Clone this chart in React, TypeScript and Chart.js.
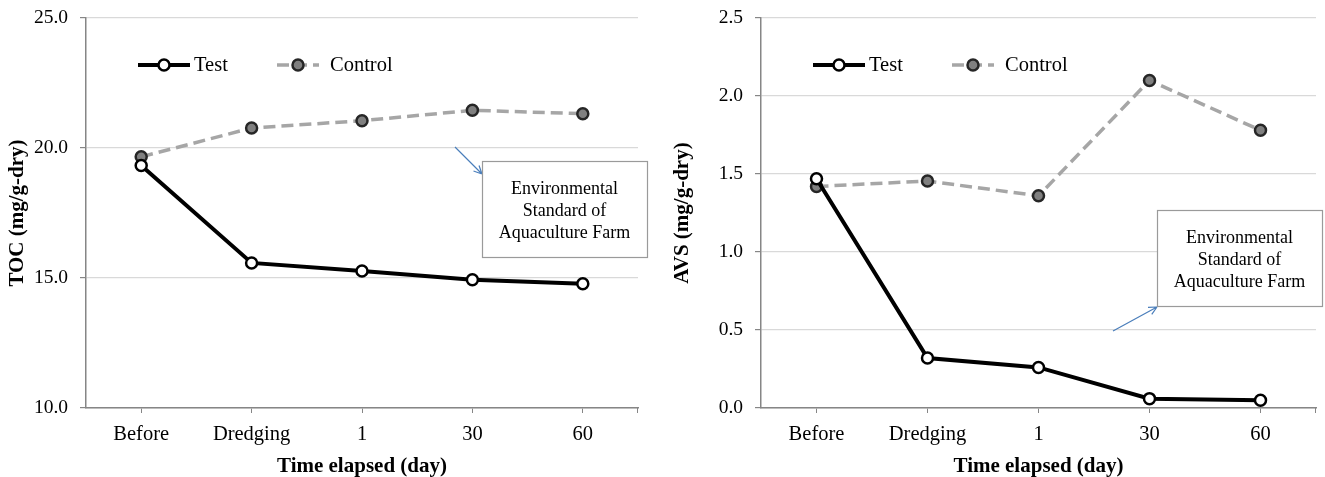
import React, { useEffect, useRef } from "react";
import { Chart, registerables } from "chart.js";

Chart.register(...registerables);

// ---------- data ----------
const categories = ["Before", "Dredging", "1", "30", "60"];
const seriesNames = ["Test", "Control"];
const tocTest = [19.33, 15.58, 15.27, 14.93, 14.78];
const tocControl = [19.66, 20.77, 21.05, 21.45, 21.32];
const avsTest = [1.47, 0.32, 0.26, 0.06, 0.05];
const avsControl = [1.42, 1.455, 1.36, 2.1, 1.78];
const tocTicks = { min: 10, max: 25, step: 5 };
const avsTicks = { min: 0, max: 2.5, step: 0.5 };
const xTitle = "Time elapsed (day)";
const tocTitle = "TOC (mg/g-dry)";
const avsTitle = "AVS (mg/g-dry)";
const annotationLines = ["Environmental", "Standard of", "Aquaculture Farm"];

// ---------- styles ----------
const FONT = "'Liberation Serif', 'Times New Roman', serif";
const AXIS_COLOR = "#868686";
const GRID_COLOR = "#d9d9d9";
const TEXT_COLOR = "#000000";

const overlayPlugin = {
  id: "overlay",
  afterDraw(chart: any, _args: any, opts: any) {
    const { ctx, chartArea: a } = chart;
    ctx.save();
    // right-end tick mark on the category axis
    ctx.strokeStyle = AXIS_COLOR;
    ctx.lineWidth = 1;
    ctx.beginPath();
    ctx.moveTo(Math.round(a.right) - 0.5, a.bottom);
    ctx.lineTo(Math.round(a.right) - 0.5, a.bottom + 5);
    ctx.stroke();

    // legend inside plot
    const ly = a.top + opts.legendDy;
    chart.data.datasets.forEach((ds: any, i: number) => {
      const it = opts.legend[i];
      ctx.save();
      ctx.strokeStyle = ds.borderColor;
      ctx.lineWidth = ds.borderWidth;
      ctx.setLineDash(ds.borderDash || []);
      ctx.beginPath();
      ctx.moveTo(a.left + it.from, ly);
      ctx.lineTo(a.left + it.to, ly);
      ctx.stroke();
      ctx.setLineDash([]);
      ctx.beginPath();
      ctx.arc(a.left + it.marker, ly, ds.pointRadius, 0, Math.PI * 2);
      ctx.fillStyle = ds.pointBackgroundColor;
      ctx.fill();
      ctx.lineWidth = ds.pointBorderWidth;
      ctx.strokeStyle = ds.pointBorderColor;
      ctx.stroke();
      ctx.fillStyle = TEXT_COLOR;
      ctx.font = `20.5px ${FONT}`;
      ctx.textBaseline = "middle";
      ctx.textAlign = "left";
      ctx.fillText(ds.label, a.left + it.text, ly + 1);
      ctx.restore();
    });

    // arrow
    const ar = opts.arrow;
    ctx.strokeStyle = "#4a7ebb";
    ctx.lineWidth = 1.2;
    ctx.beginPath();
    ctx.moveTo(ar.x1, ar.y1);
    ctx.lineTo(ar.x2, ar.y2);
    const ang = Math.atan2(ar.y2 - ar.y1, ar.x2 - ar.x1);
    const hl = 9;
    for (const d of [-0.45, 0.45]) {
      ctx.moveTo(ar.x2, ar.y2);
      ctx.lineTo(ar.x2 - hl * Math.cos(ang + d), ar.y2 - hl * Math.sin(ang + d));
    }
    ctx.stroke();

    // annotation box
    const b = opts.box;
    const bx = a.left + b.dx;
    ctx.fillStyle = "#ffffff";
    ctx.fillRect(bx, b.y, b.w, b.h);
    ctx.strokeStyle = "#9a9a9a";
    ctx.lineWidth = 1.2;
    ctx.strokeRect(bx + 0.5, b.y + 0.5, b.w, b.h);
    ctx.fillStyle = TEXT_COLOR;
    ctx.font = `18px ${FONT}`;
    ctx.textAlign = "center";
    ctx.textBaseline = "middle";
    annotationLines.forEach((t, i) => {
      ctx.fillText(t, bx + b.w / 2, b.y + 28 + i * 22);
    });
    ctx.restore();
  },
};

type Panel = {
  test: number[];
  control: number[];
  ticks: { min: number; max: number; step: number };
  yTitle: string;
  yWidth: number;
  padRight: number;
  box: { dx: number; y: number; w: number; h: number };
  arrow: { x1: number; y1: number; x2: number; y2: number };
};

function buildChart(canvas: HTMLCanvasElement, p: Panel) {
  return new Chart(canvas, {
    type: "line",
    data: {
      labels: categories,
      datasets: [
        {
          label: seriesNames[0],
          data: p.test,
          borderColor: "#000000",
          borderWidth: 4,
          pointRadius: 5.5,
          pointBorderWidth: 2.5,
          pointBackgroundColor: "#ffffff",
          pointBorderColor: "#000000",
          tension: 0,
        },
        {
          label: seriesNames[1],
          data: p.control,
          borderColor: "#a6a6a6",
          borderWidth: 3.5,
          borderDash: [12, 6],
          pointRadius: 5.5,
          pointBorderWidth: 2.5,
          pointBackgroundColor: "#808080",
          pointBorderColor: "#262626",
          tension: 0,
        },
      ] as any,
    },
    options: {
      animation: false,
      responsive: true,
      maintainAspectRatio: false,
      layout: { autoPadding: false, padding: { top: 18, right: p.padRight, left: 0, bottom: 0 } },
      plugins: {
        legend: { display: false },
        tooltip: { enabled: false },
        overlay: {
          legendDy: 47,
          legend: [
            { from: 52, to: 104, marker: 78, text: 108 },
            { from: 191, to: 233, marker: 212, text: 244 },
          ],
          box: p.box,
          arrow: p.arrow,
        },
      } as any,
      scales: {
        x: {
          type: "category",
          offset: true,
          grid: {
            display: true,
            drawOnChartArea: false,
            offset: false,
            tickLength: 5,
            tickColor: AXIS_COLOR,
          },
          border: { display: true, color: AXIS_COLOR, width: 1.5 },
          ticks: {
            color: TEXT_COLOR,
            font: { family: FONT, size: 20.5 },
            padding: 9,
            maxRotation: 0,
            autoSkip: false,
          },
          title: {
            display: true,
            text: xTitle,
            color: "#000",
            font: { family: FONT, size: 21, weight: "bold", lineHeight: 1.0 },
            padding: { top: 0, bottom: 0 },
          },
          afterFit: (s: any) => {
            s.height = 69;
            s.paddingLeft = 0;
            s.paddingRight = 0;
          },
        },
        y: {
          type: "linear",
          min: p.ticks.min,
          max: p.ticks.max,
          grid: {
            color: GRID_COLOR,
            lineWidth: 1.2,
            tickLength: 6,
            tickColor: AXIS_COLOR,
          },
          border: { display: true, color: AXIS_COLOR, width: 1.5 },
          ticks: {
            stepSize: p.ticks.step,
            color: TEXT_COLOR,
            font: { family: FONT, size: 19.5 },
            padding: 12,
            callback: (v: any) => Number(v).toFixed(1),
          },
          title: {
            display: true,
            text: p.yTitle,
            color: "#000",
            font: { family: FONT, size: 21, weight: "bold" },
            padding: { top: 5, bottom: 0 },
          },
          afterFit: (s: any) => {
            s.width = p.yWidth;
            s.paddingTop = 0;
            s.paddingBottom = 0;
          },
        },
      },
    } as any,
    plugins: [overlayPlugin],
  });
}

const leftPanel: Panel = {
  test: tocTest,
  control: tocControl,
  ticks: tocTicks,
  yTitle: tocTitle,
  yWidth: 86,
  padRight: 22,
  box: { dx: 396, y: 161, w: 165, h: 96 },
  arrow: { x1: 455, y1: 147, x2: 482, y2: 174 },
};

const rightPanel: Panel = {
  test: avsTest,
  control: avsControl,
  ticks: avsTicks,
  yTitle: avsTitle,
  yWidth: 96,
  padRight: 9,
  box: { dx: 396, y: 210, w: 165, h: 96 },
  arrow: { x1: 448, y1: 331, x2: 492, y2: 307 },
};

function ChartPanel({ panel, left }: { panel: Panel; left: number }) {
  const ref = useRef<HTMLCanvasElement | null>(null);
  useEffect(() => {
    if (!ref.current) return;
    const c = buildChart(ref.current, panel);
    return () => c.destroy();
  }, [panel]);
  return (
    <div style={{ position: "absolute", left, top: 0, width: 660, height: 477 }}>
      <canvas ref={ref} />
    </div>
  );
}

export default function App() {
  return (
    <div
      style={{
        position: "fixed",
        left: 0,
        top: 0,
        width: 1325,
        height: 477,
        background: "#ffffff",
        overflow: "hidden",
      }}
    >
      <ChartPanel panel={leftPanel} left={0} />
      <ChartPanel panel={rightPanel} left={665} />
    </div>
  );
}
